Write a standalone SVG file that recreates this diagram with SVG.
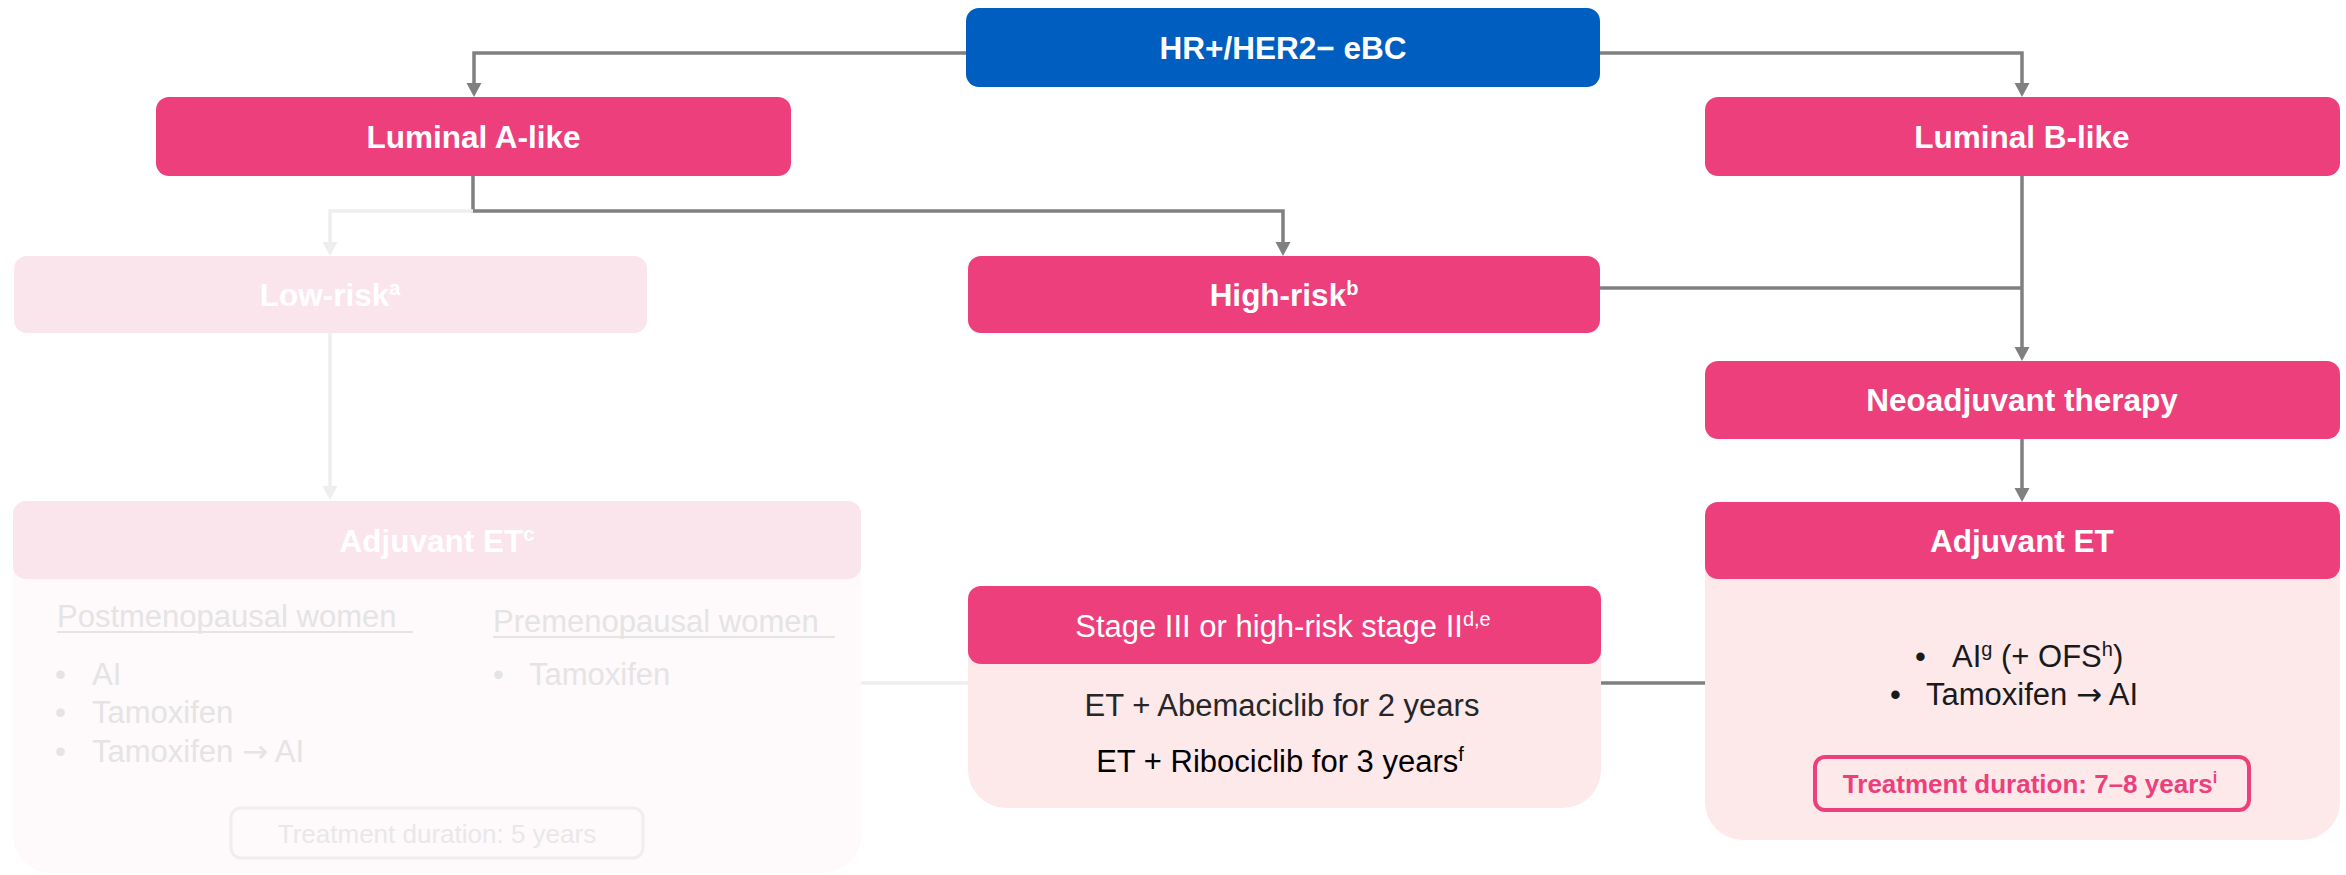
<svg xmlns="http://www.w3.org/2000/svg" width="2346" height="875" viewBox="0 0 2346 875">
  <style>
    text { font-family: "Liberation Sans", Arial, sans-serif; }
    .hd { font-size: 31.5px; font-weight: bold; fill: #ffffff; text-anchor: middle; }
    .rg { font-size: 31px; }
    .pink { fill: #ED3F7B; }
    .blue { fill: #005EC1; }
    .fade { fill: #FBE5EC; }
    .fadebody { fill: #FEF9FB; }
    .soft { fill: #FDE8EA; }
    .ftxt { fill: #E4E4E4; font-size: 31px; }
    .ar { font-family: "DejaVu Sans", sans-serif; }
    .conn { fill: none; stroke: #808080; stroke-width: 3.5; }
    .connf { fill: none; stroke: #EEEEEE; stroke-width: 3.5; }
  </style>
  <defs>
    <marker id="arr" markerUnits="userSpaceOnUse" markerWidth="16" markerHeight="16" refX="4" refY="7.5" orient="auto">
      <path d="M0,0 L14,7.5 L0,15 Z" fill="#808080"/>
    </marker>
    <marker id="arrf" markerUnits="userSpaceOnUse" markerWidth="16" markerHeight="16" refX="4" refY="7.5" orient="auto">
      <path d="M0,0 L14,7.5 L0,15 Z" fill="#EEEEEE"/>
    </marker>
  </defs>

  <!-- connectors -->
  <g id="connectors">
    <path class="conn" d="M966,53 H474 V87" marker-end="url(#arr)"/>
    <path class="conn" d="M1600,53 H2022 V87" marker-end="url(#arr)"/>
    <path class="conn" d="M473,176 V211 H1283 V246" marker-end="url(#arr)"/>
    <path class="connf" d="M473,211 H330 V246" marker-end="url(#arrf)"/>
    <path class="connf" d="M330,333 V490" marker-end="url(#arrf)"/>
    <path class="conn" d="M2022,176 V351" marker-end="url(#arr)"/>
    <path class="conn" d="M1600,288 H2022"/>
    <path class="conn" d="M2022,439 V492" marker-end="url(#arr)"/>
    <path class="connf" d="M861,683 H968"/>
    <path class="conn" d="M1601,683 H1705"/>
  </g>

  <!-- top node -->
  <g id="hr-her2">
    <rect class="blue" x="966" y="8" width="634" height="79" rx="13"/>
    <text class="hd" x="1283" y="59">HR+/HER2− eBC</text>
  </g>

  <g id="luminal-a">
    <rect class="pink" x="156" y="97" width="635" height="79" rx="13"/>
    <text class="hd" x="473.5" y="148">Luminal A-like</text>
  </g>

  <g id="luminal-b">
    <rect class="pink" x="1705" y="97" width="635" height="79" rx="13"/>
    <text class="hd" x="2022" y="148">Luminal B-like</text>
  </g>

  <g id="low-risk">
    <rect class="fade" x="14" y="256" width="633" height="77" rx="13"/>
    <text class="hd" x="330" y="306">Low-risk<tspan dy="-11" font-size="20">a</tspan></text>
  </g>

  <g id="high-risk">
    <rect class="pink" x="968" y="256" width="632" height="77" rx="13"/>
    <text class="hd" x="1284" y="306">High-risk<tspan dy="-11" font-size="20">b</tspan></text>
  </g>

  <g id="neoadjuvant">
    <rect class="pink" x="1705" y="361" width="635" height="78" rx="13"/>
    <text class="hd" x="2022" y="411" font-size="31">Neoadjuvant therapy</text>
  </g>

  <!-- low-risk adjuvant endocrine therapy panel -->
  <g id="adjuvant-low">
    <path class="fadebody" d="M26,501 H848 A13,13 0 0 1 861,514 V835 A38,38 0 0 1 823,873 H51 A38,38 0 0 1 13,835 V514 A13,13 0 0 1 26,501 Z"/>
    <rect class="fade" x="13" y="501" width="848" height="78" rx="13"/>
    <text class="hd" x="437" y="552">Adjuvant ET<tspan dy="-11" font-size="20">c</tspan></text>
    <text class="ftxt" x="57" y="627">Postmenopausal women</text>
    <line x1="57" y1="632" x2="413" y2="632" stroke="#E4E4E4" stroke-width="2"/>
    <text class="ftxt" x="493" y="632">Premenopausal women</text>
    <line x1="493" y1="637" x2="835" y2="637" stroke="#E4E4E4" stroke-width="2"/>
    <text class="ftxt" x="55" y="685">•</text>
    <text class="ftxt" x="92" y="685">AI</text>
    <text class="ftxt" x="55" y="723">•</text>
    <text class="ftxt" x="92" y="723">Tamoxifen</text>
    <text class="ftxt" x="55" y="762">•</text>
    <text class="ftxt" x="92" y="762">Tamoxifen <tspan class="ar">→</tspan> AI</text>
    <text class="ftxt" x="493" y="685">•</text>
    <text class="ftxt" x="529" y="685">Tamoxifen</text>
    <rect x="231" y="808" width="412" height="50" rx="10" fill="none" stroke="#EEEEEE" stroke-width="3"/>
    <text x="437" y="843" font-size="26" fill="#E8E8E8" text-anchor="middle">Treatment duration: 5 years</text>
  </g>

  <!-- CDK4/6 inhibitor panel -->
  <g id="stage-high">
    <path class="soft" d="M981,586 H1588 A13,13 0 0 1 1601,599 V770 A38,38 0 0 1 1563,808 H1006 A38,38 0 0 1 968,770 V599 A13,13 0 0 1 981,586 Z"/>
    <rect class="pink" x="968" y="586" width="633" height="78" rx="13"/>
    <text class="rg" x="1283" y="637" fill="#ffffff" text-anchor="middle">Stage III or high-risk stage II<tspan dy="-11" font-size="20">d,e</tspan></text>
    <text class="rg" x="1282" y="716" fill="#262626" text-anchor="middle">ET + Abemaciclib for 2 years</text>
    <text class="rg" x="1280" y="772" fill="#000000" text-anchor="middle">ET + Ribociclib for 3 years<tspan dy="-11" font-size="20">f</tspan></text>
  </g>

  <!-- high-risk adjuvant endocrine therapy panel -->
  <g id="adjuvant-high">
    <path class="soft" d="M1718,502 H2327 A13,13 0 0 1 2340,515 V802 A38,38 0 0 1 2302,840 H1743 A38,38 0 0 1 1705,802 V515 A13,13 0 0 1 1718,502 Z"/>
    <rect class="pink" x="1705" y="502" width="635" height="77" rx="13"/>
    <text class="hd" x="2022" y="552">Adjuvant ET</text>
    <text class="rg" x="1915" y="667" fill="#1a1a1a">•</text>
    <text class="rg" x="1952" y="667" fill="#1a1a1a">AI<tspan dy="-11" font-size="20">g</tspan><tspan dy="11"> (+ OFS</tspan><tspan dy="-11" font-size="20">h</tspan><tspan dy="11">)</tspan></text>
    <text class="rg" x="1890" y="705" fill="#1a1a1a">•</text>
    <text class="rg" x="1926" y="705" fill="#1a1a1a">Tamoxifen <tspan class="ar">→</tspan> AI</text>
    <rect x="1815" y="757" width="434" height="53" rx="10" fill="none" stroke="#ED3F7B" stroke-width="4"/>
    <text x="2030" y="793" font-size="26" font-weight="bold" fill="#ED3F7B" text-anchor="middle">Treatment duration: 7–8 years<tspan dy="-10" font-size="16">i</tspan></text>
  </g>
</svg>
